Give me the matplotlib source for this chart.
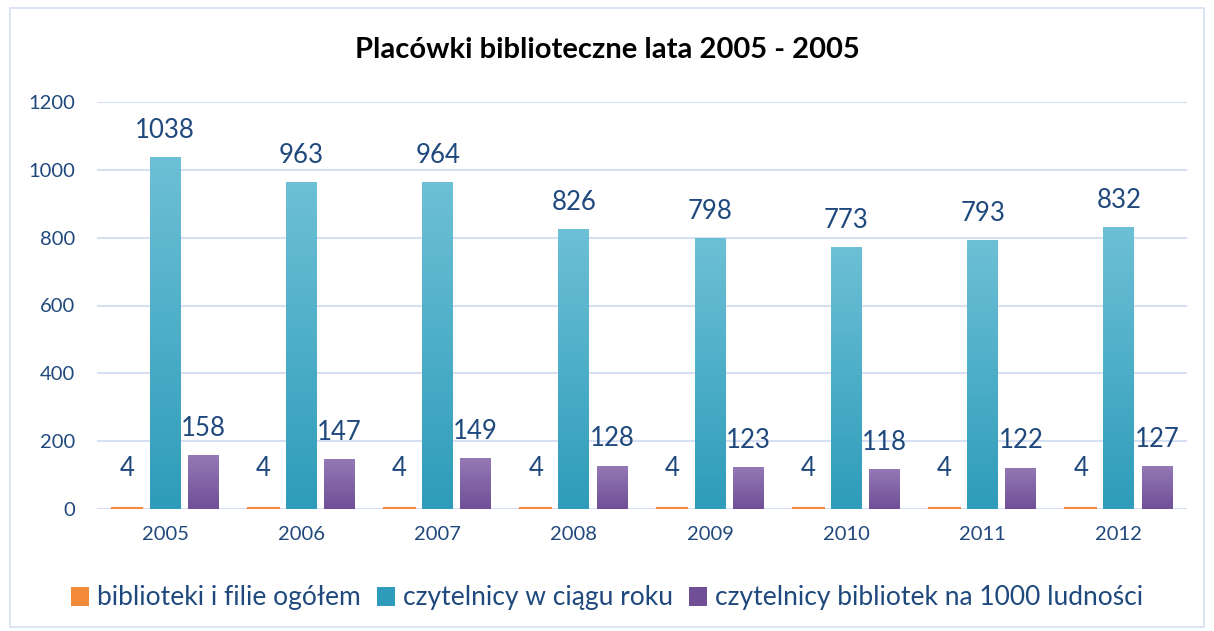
import matplotlib
matplotlib.use("Agg")
import matplotlib.pyplot as plt
import numpy as np
from matplotlib.colors import LinearSegmentedColormap
from matplotlib.patches import Rectangle, Patch

years = ["2005", "2006", "2007", "2008", "2009", "2010", "2011", "2012"]
biblioteki = [4, 4, 4, 4, 4, 4, 4, 4]
czytelnicy = [1038, 963, 964, 826, 798, 773, 793, 832]
czyt_1000 = [158, 147, 149, 128, 123, 118, 122, 127]
series_names = ["biblioteki i filie ogółem", "czytelnicy w ciągu roku",
                "czytelnicy bibliotek na 1000 ludności"]

plt.rcParams['font.family'] = ['Lato', 'DejaVu Sans']
txt = "#1F497D"

fig = plt.figure(figsize=(12.14, 6.31), dpi=100)
fig.patches.append(Rectangle((0.008, 0.006), 0.984, 0.982, transform=fig.transFigure,
                             fill=False, edgecolor="#D5E0F2", linewidth=1.2))
ax = fig.add_axes([97/1214, 1-509/631, (1187-97)/1214, 407/631])

x = np.arange(len(years))
w = 0.227
off = 0.28
grads = [("#F9A868", "#F38A3A"), ("#6DC0D6", "#2E9CBA"), ("#9479B5", "#704F97")]
data = [biblioteki, czytelnicy, czyt_1000]
label_gap = [80, 42, 42]
edge_w = [1.5, 0, 0]
for i, (vals, (ctop, cbot)) in enumerate(zip(data, grads)):
    bars = ax.bar(x + (i - 1) * off, vals, w, color=cbot, edgecolor=cbot,
                  linewidth=edge_w[i], zorder=2)
    cmap = LinearSegmentedColormap.from_list("g", [cbot, ctop])
    if edge_w[i] == 0:
        for b in bars:
            bx, by = b.get_x(), b.get_y()
            bw, bh = b.get_width(), b.get_height()
            grad = np.linspace(0, 1, 256).reshape(-1, 1)
            im = ax.imshow(grad, cmap=cmap, aspect="auto", origin="lower",
                           extent=[bx, bx + bw, by, by + bh], zorder=2.5)
            im.set_clip_path(b)
    for xi, v in zip(x, vals):
        ax.text(xi + (i - 1) * off, v + label_gap[i], str(v), ha="center", va="bottom",
                fontsize=18.5, color=txt, zorder=3)

ax.set_xlim(-0.5, len(years) - 0.5)
ax.set_ylim(0, 1200)
ax.set_yticks(range(0, 1201, 200))
ax.set_xticks(x)
ax.set_xticklabels(years)
ax.tick_params(axis="both", length=0, labelsize=14.5, labelcolor=txt)
ax.tick_params(axis="x", pad=12)
ax.tick_params(axis="y", pad=16)
ax.grid(axis="y", color="#D5E0F2", linewidth=1.5, zorder=0)
ax.set_axisbelow(True)
for s in ax.spines.values():
    s.set_visible(False)

fig.text(0.5, 1-50/631, "Placówki biblioteczne lata 2005 - 2005", ha="center", va="center",
         fontsize=21, fontweight="bold", color="black")

handles = [Patch(facecolor=c[1]) for c in grads]
fig.legend(handles, series_names, loc="center", bbox_to_anchor=(0.5, 1-598/631),
           ncol=3, frameon=False, fontsize=19, labelcolor=txt,
           handlelength=0.7, handleheight=0.7, handletextpad=0.3, columnspacing=0.6)

fig.savefig("out.png", dpi=100)
